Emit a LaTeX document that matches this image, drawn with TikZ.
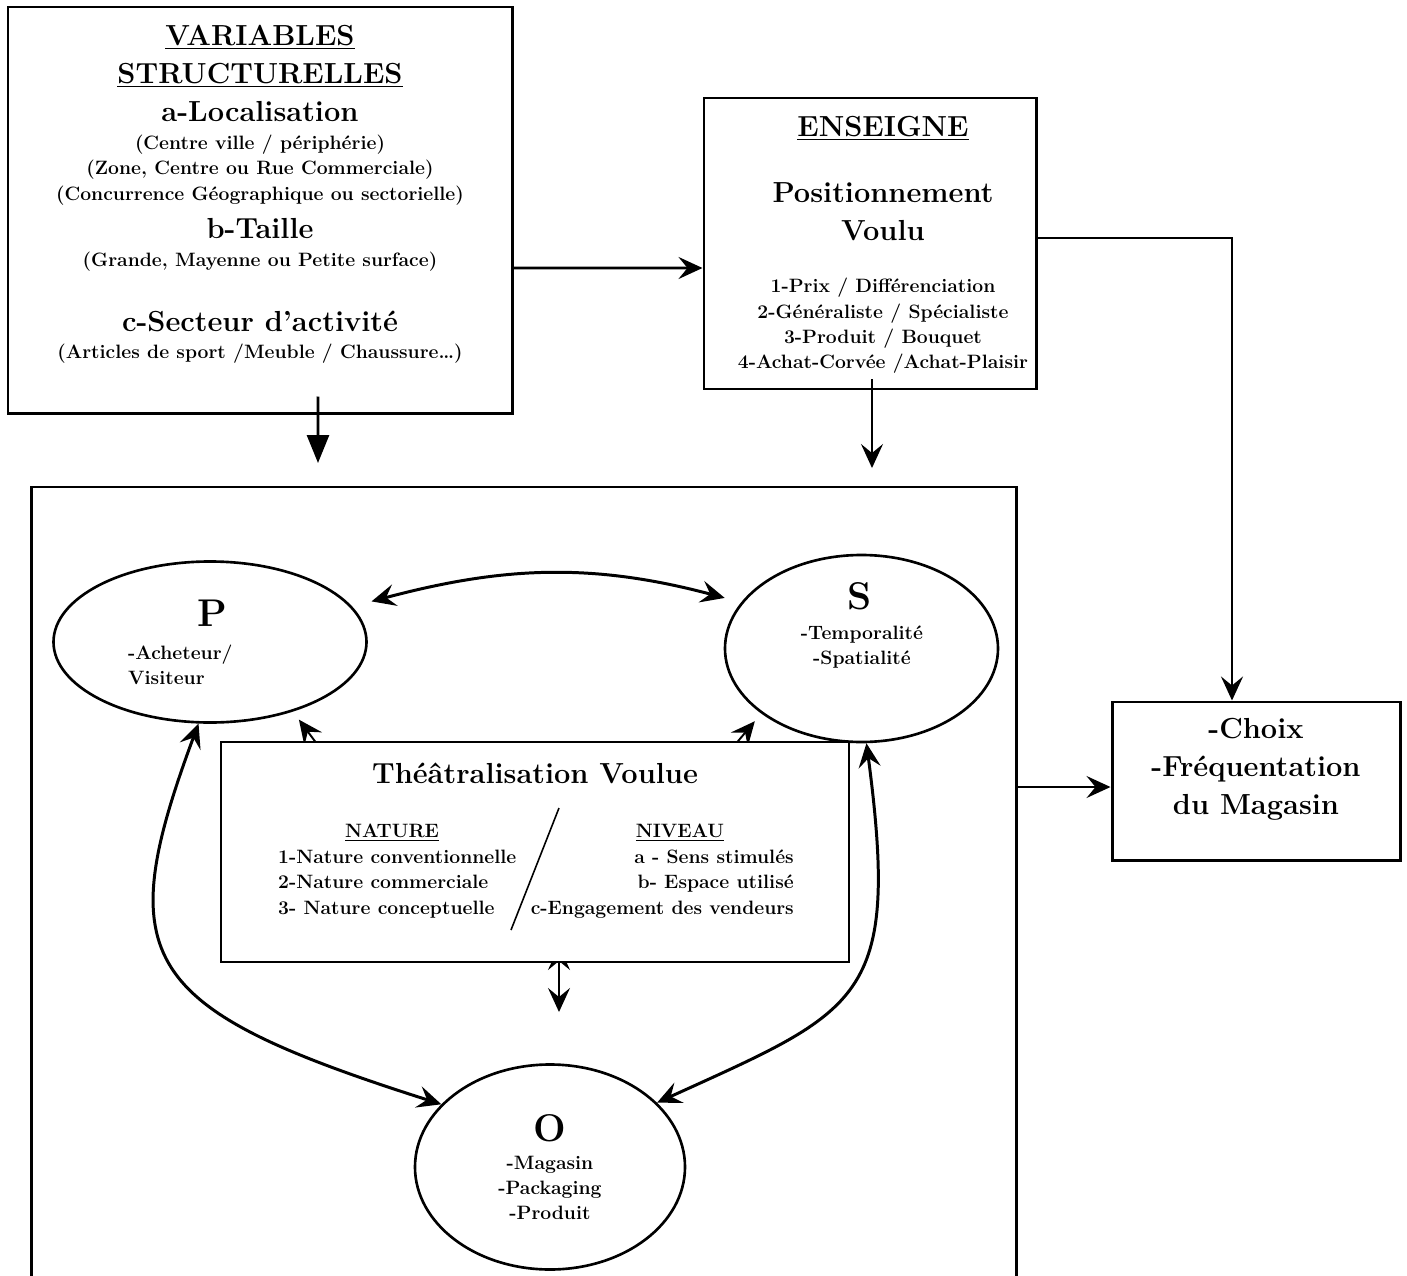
\documentclass[tikz,border=0pt]{standalone}
\usepackage{fontspec}
\usepackage{tikz}
\usetikzlibrary{shapes.geometric,arrows.meta,positioning}

\begin{document}
\begin{tikzpicture}[
    x=0.2mm, y=-0.2mm,
    >={Stealth[length=4.8mm,width=4.4mm,inset=1.8mm]},
    mainbox/.style={draw, line width=1.7pt, inner sep=0pt},
    ovalnode/.style={ellipse, draw, line width=1.5pt, inner sep=0pt},
    bigtext/.style={align=center, font=\fontsize{16.5}{21.7}\selectfont\bfseries},
    smalltext/.style={align=center, font=\fontsize{11}{14.4}\selectfont\bfseries},
    lettertext/.style={font=\fontsize{22}{26}\selectfont\bfseries},
    link/.style={line width=1.6pt},
    thinlink/.style={line width=0.9pt},
    twoway/.style={line width=1.7pt, <->},
    sidearrow/.style={line width=1.1pt, <->}
]
\useasboundingbox (0,0) rectangle (1407,1276);

% structural variables
\node[mainbox, minimum width=100.8mm, minimum height=81.2mm] (vars) at (260,210) {};
\node[bigtext] (varstitle) at (260,73.5) {\underline{VARIABLES}\\\underline{STRUCTURELLES}\\a-Localisation};
\node[smalltext] (loc) at (260,170) {(Centre ville / périphérie)\\(Zone, Centre ou Rue Commerciale)\\(Concurrence Géographique ou sectorielle)};
\node[bigtext] (taille) at (260,229) {b-Taille};
\node[smalltext] (surf) at (260,262) {(Grande, Mayenne ou Petite surface)};
\node[bigtext] (secteur) at (260,321) {c-Secteur d’activité};
\node[smalltext] (articles) at (260,354) {(Articles de sport /Meuble / Chaussure…)};

% enseigne
\node[mainbox, minimum width=66.4mm, minimum height=58.2mm] (ens) at (870,243.5) {};
\node[bigtext] (enstitle) at (883,128) {\underline{ENSEIGNE}};
\node[bigtext] (posvoulu) at (883,212) {Positionnement\\Voulu};
\node[smalltext] (axes) at (883,326) {1-Prix / Différenciation\\2-Généraliste / Spécialiste\\3-Produit / Bouquet\\4-Achat-Corvée /Achat-Plaisir};

% choix
\node[mainbox, minimum width=57.6mm, minimum height=31.6mm] (choix) at (1256,781) {};
\node[bigtext] (choixtxt) at (1256,769) {-Choix\\-Fréquentation\\du Magasin};

% scene
\node[mainbox, minimum width=196.8mm, minimum height=162.6mm] (scene) at (524,893.5) {};

\node[ovalnode, minimum width=62.6mm, minimum height=32.2mm] (P) at (210,642) {};
\node[lettertext] (Pl) at (212,613) {P};
\node[smalltext, align=left, anchor=west] (Ptxt) at (122,664.5) {-Acheteur/\\Visiteur};

\node[ovalnode, minimum width=54.6mm, minimum height=37.4mm] (S) at (861.5,648.5) {};
\node[lettertext] (Sl) at (860,596) {S};
\node[smalltext] (Stxt) at (862,647) {-Temporalité\\-Spatialité};

\node[ovalnode, minimum width=54mm, minimum height=41mm] (O) at (550,1167) {};
\node[lettertext] (Ol) at (550,1128) {O};
\node[smalltext] (Otxt) at (550,1188) {-Magasin\\-Packaging\\-Produit};

% arrows hidden under the theatre box
\coordinate (thP) at (340,775);
\coordinate (thS) at (712,772);
\coordinate (thO) at (559,946);
\coordinate (thdown) at (559,1012);
\draw[sidearrow, shorten <=2mm] (P.-40) -- (thP);
\draw[sidearrow, shorten <=2mm] (S.-147) -- (thS);
\draw[sidearrow] (thO) -- (thdown);

\node[draw, fill=white, line width=0.8pt, minimum width=125.6mm, minimum height=44mm] (theatre) at (535,852) {};
\node[bigtext] (theatitle) at (535,773) {Théâtralisation Voulue};
\node[smalltext] (nature) at (392,833) {\underline{NATURE}};
\node[smalltext] (niveau) at (680,833) {\underline{NIVEAU}};
\node[smalltext, align=left, anchor=west] (natlist) at (272,884) {1-Nature conventionnelle\\2-Nature commerciale\\3- Nature conceptuelle};
\node[smalltext, align=right, anchor=east] (nivlist) at (800,884) {a - Sens stimulés\\b- Espace utilisé\\c-Engagement des vendeurs};
\draw[thinlink] (559,808) -- (511,930);

% loops between P, S and O
\draw[twoway, shorten <=4mm, shorten >=3.4mm] (P.14) .. controls +(150,-40) and +(-150,-40) .. (S.159);
\draw[twoway] (P.-98) .. controls +(-88,237) and +(-302,-96) .. (O.150);
\draw[twoway] (S.-87) .. controls +(34,258) and +(204,-93) .. (O.31);

% connectors
\coordinate (varsdown) at (318,463);
\coordinate (ensdown) at (872,468);
\coordinate (choixin) at ([yshift=-1.2mm]choix.west);
\draw[link, ->] ([yshift=-11.6mm]vars.east) -- ([yshift=-4.9mm]ens.west);
\draw[link, ->] ([yshift=1.1mm]ens.east) -| ([xshift=-4.8mm]choix.north);
\draw[link, -{Triangle[length=5.6mm,width=4.4mm]}] ([xshift=11.6mm,yshift=3.6mm]vars.south) -- (varsdown);
\draw[thinlink, ->] ([xshift=0.4mm,yshift=2.2mm]ens.south) -- (ensdown);
\draw[thinlink, ->] (scene.east |- choixin) -- (choixin);

\end{tikzpicture}
\end{document}
